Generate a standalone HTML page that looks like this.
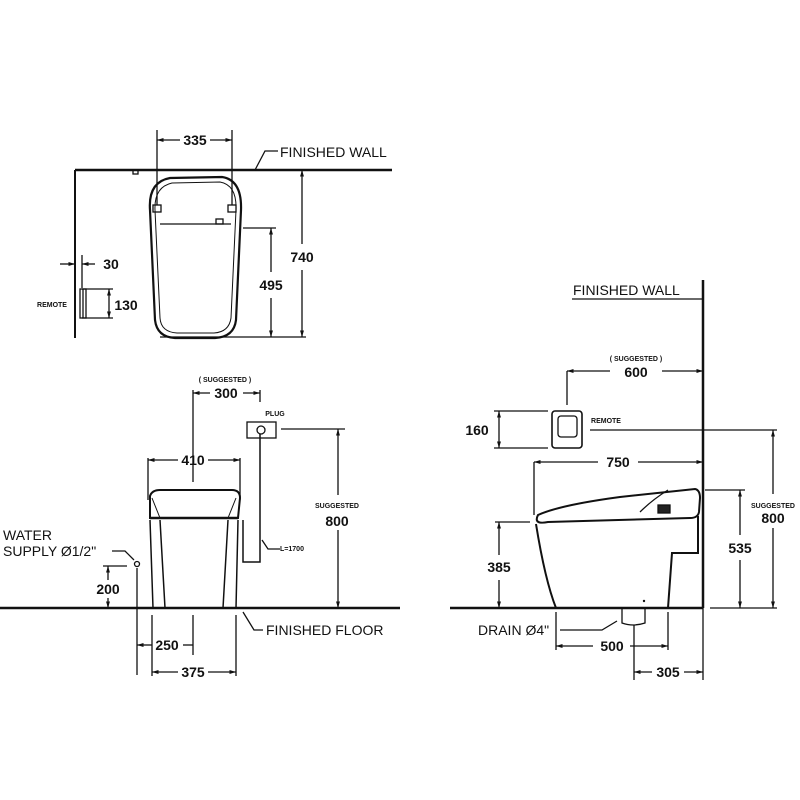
<!DOCTYPE html>
<html><head><style>
html,body{margin:0;padding:0;background:#fff;}
svg{display:block;}
text{font-family:"Liberation Sans",sans-serif;fill:#111;}
.n{font-size:14px;font-weight:bold;text-anchor:middle;}
.s{font-size:7px;font-weight:bold;text-anchor:middle;}
.l{font-size:14px;}
</style></head><body>
<svg width="800" height="800" viewBox="0 0 800 800" xmlns="http://www.w3.org/2000/svg">
<defs>
<marker id="a" viewBox="0 0 10 10" refX="10" refY="5" markerWidth="5" markerHeight="5" orient="auto-start-reverse"><path d="M0,2 L10,5 L0,8z" fill="#111"/></marker>
</defs>
<g stroke="#111" fill="none" stroke-width="1.3">
<!-- TOP VIEW -->
<line x1="75" y1="170" x2="392" y2="170" stroke-width="2.5"/>
<line x1="75" y1="170" x2="75" y2="338" stroke-width="2"/>
<rect x="133" y="170" width="5" height="4"/>
<path d="M150,210 Q148,182 170,178 L222,177 Q242,180 241,210 L236,320 Q234,337 215,338 L175,338 Q157,337 155,320 Z" stroke-width="2.2"/>
<path d="M155,210 Q154,187 172,183 L220,182 Q237,185 236,210 L231,318 Q229,332 214,333 L177,333 Q161,332 160,318 Z" stroke-width="1"/>
<line x1="160" y1="224" x2="231" y2="224"/>
<rect x="153" y="205" width="8" height="7"/><rect x="228" y="205" width="8" height="7"/>
<rect x="216" y="219" width="7" height="5"/>
<line x1="157" y1="130" x2="157" y2="205"/><line x1="232" y1="130" x2="232" y2="205"/>
<line x1="157" y1="140" x2="180" y2="140" marker-start="url(#a)"/><line x1="210" y1="140" x2="232" y2="140" marker-end="url(#a)"/>
<path d="M255,170 L265,151 L278,151"/>
<line x1="243" y1="228" x2="276" y2="228"/>
<line x1="271" y1="228" x2="271" y2="272" marker-start="url(#a)"/><line x1="271" y1="298" x2="271" y2="337" marker-end="url(#a)"/>
<line x1="302" y1="170" x2="302" y2="244" marker-start="url(#a)"/><line x1="302" y1="270" x2="302" y2="337" marker-end="url(#a)"/>
<line x1="160" y1="337" x2="306" y2="337"/>
<rect x="80" y="289" width="6" height="29"/><line x1="83" y1="289" x2="83" y2="318"/>
<line x1="82" y1="289" x2="113" y2="289"/><line x1="82" y1="318" x2="113" y2="318"/>
<line x1="109" y1="289" x2="109" y2="318" marker-start="url(#a)" marker-end="url(#a)"/>
<line x1="60" y1="264" x2="75" y2="264" marker-end="url(#a)"/>
<line x1="95" y1="264" x2="82" y2="264" marker-end="url(#a)"/>
<line x1="82" y1="255" x2="82" y2="288"/>
<!-- FRONT VIEW -->
<line x1="0" y1="608" x2="400" y2="608" stroke-width="2.5"/>
<path d="M150,496 Q152,490 160,490 L232,490 Q240,490 240,498 L238,518 L150,518 Z" stroke-width="2"/>
<path d="M150,520 L153,608 M238,520 L236,608 M160,520 L165,608 M228,520 L223,608" stroke-width="1.5"/>
<path d="M160,518 L152,498 M228,518 L236,498" stroke-width="1"/>
<line x1="150" y1="518" x2="238" y2="518" stroke-width="2.5"/>
<line x1="148" y1="458" x2="148" y2="500"/><line x1="240" y1="458" x2="240" y2="500"/>
<line x1="148" y1="460" x2="178" y2="460" marker-start="url(#a)"/><line x1="208" y1="460" x2="240" y2="460" marker-end="url(#a)"/>
<line x1="193" y1="390" x2="193" y2="482"/><line x1="260" y1="390" x2="260" y2="402"/>
<line x1="193" y1="393" x2="210" y2="393" marker-start="url(#a)"/><line x1="243" y1="393" x2="260" y2="393" marker-end="url(#a)"/>
<rect x="247" y="422" width="29" height="16"/><circle cx="261" cy="430" r="4"/>
<path d="M260,434 L260,562 L243,562 L243,520" stroke-width="1.5"/>
<path d="M262,540 L268,549 L280,549"/>
<line x1="281" y1="429" x2="345" y2="429"/>
<line x1="338" y1="429" x2="338" y2="495" marker-start="url(#a)"/><line x1="338" y1="530" x2="338" y2="608" marker-end="url(#a)"/>
<path d="M112,551 L125,551 L134,560"/><circle cx="137" cy="564" r="2.5"/>
<line x1="137" y1="568" x2="137" y2="675"/>
<line x1="103" y1="566" x2="127" y2="566"/>
<line x1="108" y1="566" x2="108" y2="580" marker-start="url(#a)"/><line x1="108" y1="598" x2="108" y2="608" marker-end="url(#a)"/>
<line x1="152" y1="615" x2="152" y2="676"/><line x1="193" y1="615" x2="193" y2="655"/><line x1="236" y1="615" x2="236" y2="676"/>
<line x1="137" y1="645" x2="152" y2="645" marker-start="url(#a)"/><line x1="183" y1="645" x2="193" y2="645"/>
<line x1="152" y1="672" x2="178" y2="672" marker-start="url(#a)"/><line x1="208" y1="672" x2="236" y2="672" marker-end="url(#a)"/>
<path d="M243,612 L254,630 L263,630"/>
<!-- SIDE VIEW -->
<line x1="450" y1="608" x2="703" y2="608" stroke-width="2.5"/>
<line x1="703" y1="280" x2="703" y2="608" stroke-width="2.5"/>
<line x1="703" y1="608" x2="703" y2="680"/>
<line x1="572" y1="299" x2="703" y2="299"/>
<line x1="567" y1="371" x2="567" y2="405"/>
<line x1="567" y1="371" x2="610" y2="371" marker-start="url(#a)"/><line x1="662" y1="371" x2="703" y2="371" marker-end="url(#a)"/>
<rect x="552" y="411" width="30" height="37" rx="3" stroke-width="1.6"/>
<rect x="558" y="416" width="19" height="21" rx="3"/>
<line x1="590" y1="430" x2="777" y2="430"/>
<line x1="494" y1="411" x2="548" y2="411"/><line x1="494" y1="448" x2="548" y2="448"/>
<line x1="499" y1="411" x2="499" y2="448" marker-start="url(#a)" marker-end="url(#a)"/>
<line x1="534" y1="462" x2="534" y2="515"/>
<line x1="534" y1="462" x2="598" y2="462" marker-start="url(#a)"/><line x1="638" y1="462" x2="703" y2="462" marker-end="url(#a)"/>
<path d="M538,515 Q560,505 620,497 L695,489 Q700,490 700,498 L699,512 Q698,518 690,518 L548,522 Q533,525 538,515 Z" stroke-width="2"/>
<path d="M640,512 Q652,500 668,490" stroke-width="1.3"/>
<rect x="658" y="505" width="12" height="8" fill="#222"/>
<path d="M536,524 Q545,580 556,608 M698,516 L698,553 L672,553 L668,608" stroke-width="2"/>
<line x1="495" y1="522" x2="530" y2="522"/>
<line x1="499" y1="522" x2="499" y2="555" marker-start="url(#a)"/><line x1="499" y1="580" x2="499" y2="608" marker-end="url(#a)"/>
<line x1="705" y1="490" x2="745" y2="490"/>
<line x1="740" y1="490" x2="740" y2="535" marker-start="url(#a)"/><line x1="740" y1="560" x2="740" y2="608" marker-end="url(#a)"/>
<line x1="710" y1="608" x2="777" y2="608"/>
<line x1="773" y1="430" x2="773" y2="494" marker-start="url(#a)"/><line x1="773" y1="528" x2="773" y2="608" marker-end="url(#a)"/>
<path d="M622,608 L622,623 Q633,627 645,623 L645,608" stroke-width="1.3"/>
<path d="M560,630 L602,630 L617,621"/>
<line x1="556" y1="612" x2="556" y2="650"/><line x1="668" y1="612" x2="668" y2="650"/>
<line x1="556" y1="646" x2="593" y2="646" marker-start="url(#a)"/><line x1="630" y1="646" x2="668" y2="646" marker-end="url(#a)"/>
<line x1="634" y1="625" x2="634" y2="680"/>
<line x1="634" y1="672" x2="652" y2="672" marker-start="url(#a)"/><line x1="684" y1="672" x2="703" y2="672" marker-end="url(#a)"/>
</g>
<circle cx="644" cy="601" r="1.2" fill="#111"/>
<!-- text -->
<text class="n" x="195" y="145">335</text>
<text class="l" x="280" y="157">FINISHED  WALL</text>
<text class="n" x="271" y="290">495</text>
<text class="n" x="302" y="262">740</text>
<text class="n" x="111" y="269">30</text>
<text class="n" x="126" y="310">130</text>
<text class="s" x="52" y="307">REMOTE</text>
<text class="s" x="225" y="382">( SUGGESTED )</text>
<text class="n" x="226" y="398">300</text>
<text class="s" x="275" y="416">PLUG</text>
<text class="n" x="193" y="465">410</text>
<text class="s" x="292" y="551">L=1700</text>
<text class="s" x="337" y="508">SUGGESTED</text>
<text class="n" x="337" y="526">800</text>
<text class="l" x="3" y="540">WATER</text>
<text class="l" x="3" y="556">SUPPLY Ø1/2"</text>
<text class="n" x="108" y="594">200</text>
<text class="n" x="167" y="650">250</text>
<text class="n" x="193" y="677">375</text>
<text class="l" x="266" y="635">FINISHED  FLOOR</text>
<text class="l" x="573" y="295">FINISHED  WALL</text>
<text class="s" x="636" y="361">( SUGGESTED )</text>
<text class="n" x="636" y="377">600</text>
<text class="s" x="606" y="423">REMOTE</text>
<text class="n" x="477" y="435">160</text>
<text class="n" x="618" y="467">750</text>
<text class="n" x="499" y="572">385</text>
<text class="n" x="740" y="553">535</text>
<text class="s" x="773" y="508">SUGGESTED</text>
<text class="n" x="773" y="523">800</text>
<text class="l" x="478" y="635">DRAIN Ø4"</text>
<text class="n" x="612" y="651">500</text>
<text class="n" x="668" y="677">305</text>
</svg>
</body></html>
